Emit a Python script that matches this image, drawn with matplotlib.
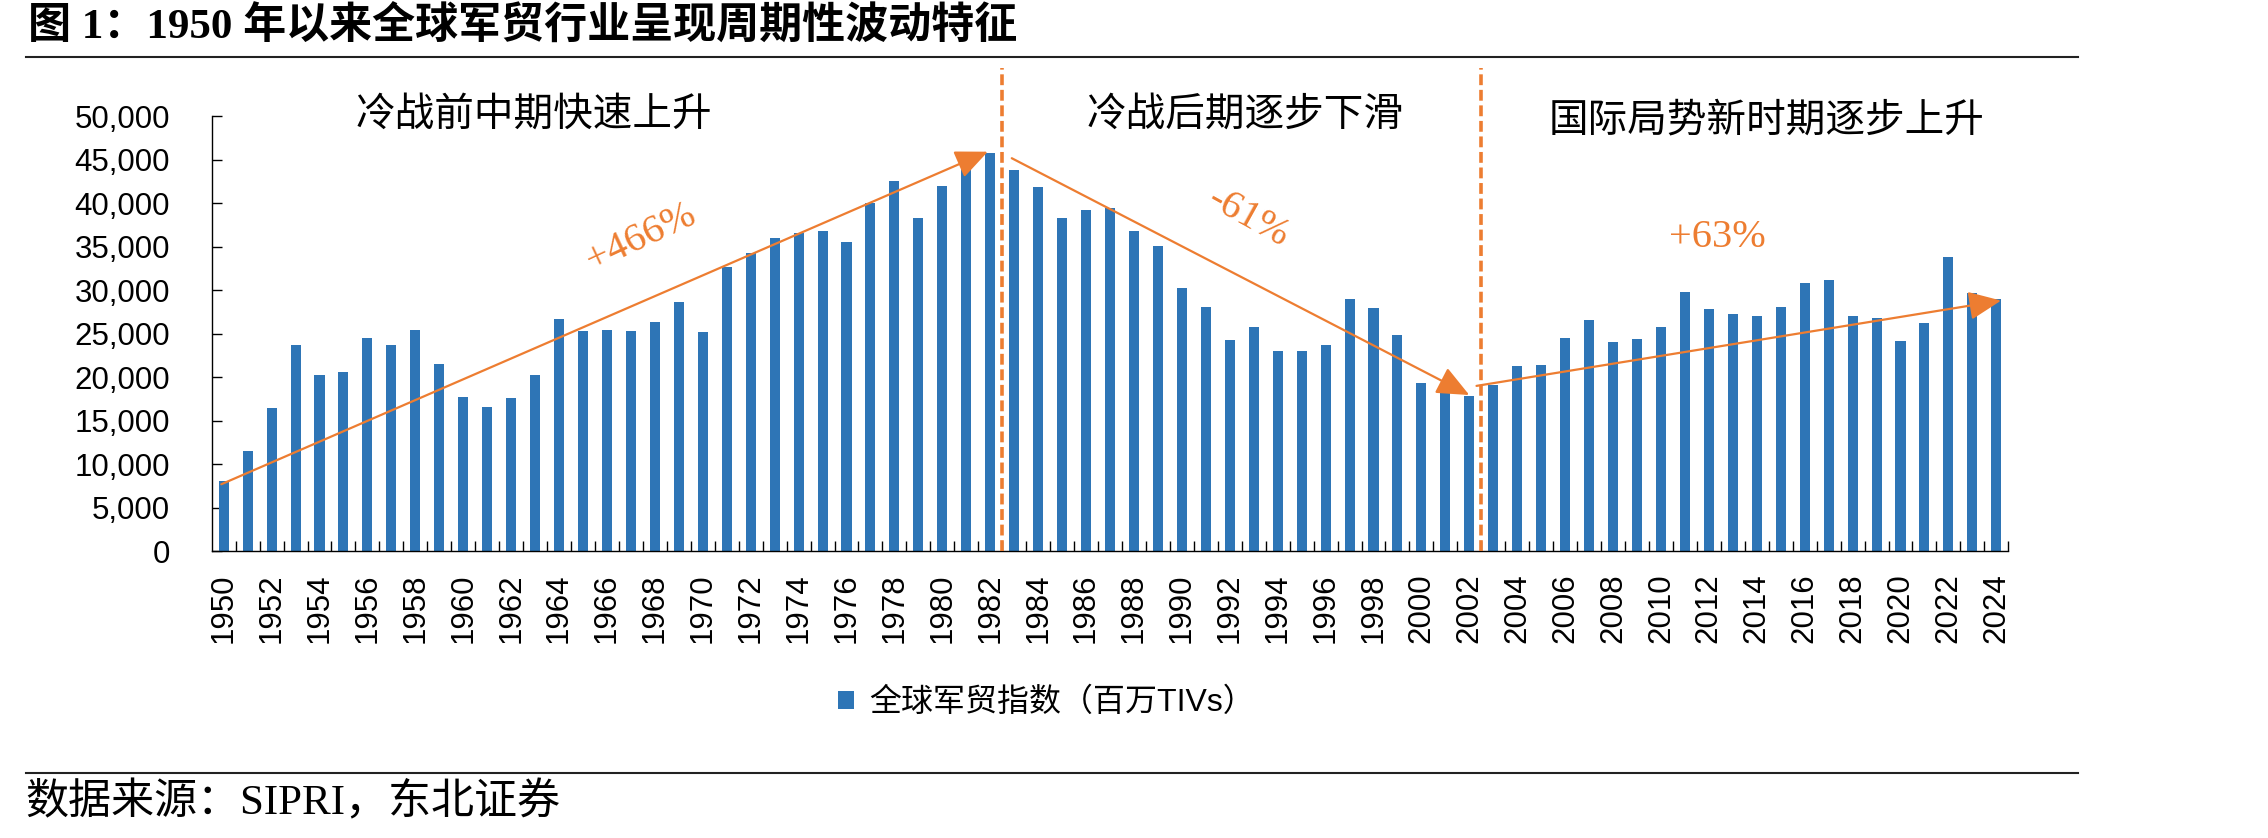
import numpy as np
import matplotlib
matplotlib.use("Agg")
import matplotlib.pyplot as plt
from matplotlib.ticker import FuncFormatter, FixedLocator

# data (SIPRI TIV, millions)
years = list(range(1950, 2025))
tiv = [8100, 11500, 16500, 23650, 20200, 20550, 24500, 23700, 25400, 21500,
       17700, 16550, 17600, 20200, 26650, 25250, 25400, 25300, 26350, 28650,
       25150, 32600, 34250, 36000, 36550, 36750, 35550, 40050, 42500, 38300,
       42000, 45500, 45750, 43850, 41900, 38250, 39150, 39400, 36800, 35050,
       30200, 28050, 24250, 25800, 22950, 22950, 23750, 28950, 27900, 24900,
       19350, 18600, 17800, 19100, 21300, 21350, 24450, 26550, 24000, 24400,
       25750, 29800, 27850, 27200, 27000, 28050, 30800, 31150, 27050, 26750,
       24150, 26250, 33850, 29650, 28950]
series_name = "全球军贸指数（百万TIVs）"
title = "图 1：1950 年以来全球军贸行业呈现周期性波动特征"
source = "数据来源：SIPRI，东北证券"

# phases: divider years (between bars), label text
dividers = [1982.5, 2002.5]
phase_labels = ["冷战前中期快速上升", "冷战后期逐步下滑", "国际局势新时期逐步上升"]
phase_xy = [(1962.96, 50200), (1992.65, 50200), (2014.4, 49500)]

# trend arrows (year, value) -> (year, value) and their labels
trend_arrows = [((1949.9, 7700), (1981.9, 45900)),
                ((1982.9, 45150), (2002.0, 17950)),
                ((2002.3, 19000), (2024.2, 28800))]
trend_labels = ["+466%", "-61%", "+63%"]
trend_label_xy = [(1967.43, 36000), (1992.78, 38300), (2012.36, 36000)]
trend_label_rot = [25, -29, 0]

blue = "#2E75B6"
orange = "#ED7D31"
cjk = "Noto Sans CJK SC"

x = np.arange(len(years))
W, H = 2268, 838

fig = plt.figure(figsize=(W / 100, H / 100), dpi=100)
ax = fig.add_axes([211.7 / W, 1 - 551.3 / H, (2008.3 - 211.7) / W, (551.3 - 116) / H])

bars = ax.bar(x, tiv, width=0.42, color=blue, label=series_name, zorder=2)

ax.set_xlim(-0.5, len(years) - 0.5)
ax.set_ylim(0, 50000)

for s in ["top", "right"]:
    ax.spines[s].set_visible(False)
for s in ["left", "bottom"]:
    ax.spines[s].set_linewidth(1.0)

ax.set_yticks(np.arange(0, 50001, 5000))
ax.yaxis.set_major_formatter(FuncFormatter(lambda v, p: f"{int(v):,}"))
ax.tick_params(axis="y", direction="in", length=7, width=1.0, pad=30,
               labelsize=22.5)
for lab in ax.get_yticklabels():
    lab.set_family("Liberation Sans")

ax.set_xticks(x[::2])
ax.set_xticklabels([str(y) for y in years[::2]], rotation=90,
                   family="Liberation Sans", fontsize=22.5)
ax.tick_params(axis="x", which="major", length=0, pad=16)
ax.xaxis.set_minor_locator(FixedLocator(x + 0.5))
ax.tick_params(axis="x", which="minor", direction="in", length=7, width=1.0)

# period dividers
for d in dividers:
    xd = d - years[0]
    ax.plot([xd, xd], [0, 55500], color=orange, lw=2.6, dashes=(3, 1.3),
            clip_on=False, zorder=3)

for txt, (yr, v) in zip(phase_labels, phase_xy):
    ax.text(yr - years[0], v, txt, ha="center", va="center", fontsize=28.5,
            family=cjk, color="black")

for (s, e) in trend_arrows:
    ax.annotate("", xy=(e[0] - years[0], e[1]), xytext=(s[0] - years[0], s[1]),
                arrowprops=dict(arrowstyle="-|>,head_length=0.5,head_width=0.22",
                                color=orange, lw=1.6, mutation_scale=40,
                                shrinkA=0, shrinkB=0), zorder=4)

for txt, (yr, v), r in zip(trend_labels, trend_label_xy, trend_label_rot):
    ax.text(yr - years[0], v, txt, ha="center", va="center", fontsize=29,
            family="Liberation Serif", color=orange, rotation=r,
            rotation_mode="anchor")

leg = ax.legend(loc="center", bbox_to_anchor=((843 + 1250) / 2 / W, 1 - 703 / H),
                bbox_transform=fig.transFigure, frameon=False,
                prop={"family": ["Liberation Sans", cjk], "size": 23},
                handlelength=0.5, handleheight=0.5, handletextpad=0.45,
                borderpad=0)

# header / footer
fig.text(28 / W, 1 - 27 / H, title, ha="left", va="center", fontsize=31,
         fontweight="bold", family=["Liberation Serif", cjk])
fig.add_artist(plt.Line2D([26 / W, 2078 / W], [1 - 57 / H, 1 - 57 / H],
                          color="#222222", lw=1.5))
fig.add_artist(plt.Line2D([26 / W, 2078 / W], [1 - 773 / H, 1 - 773 / H],
                          color="#222222", lw=1.5))
fig.text(25 / W, 1 - 803 / H, source, ha="left", va="center", fontsize=31,
         family=["Liberation Serif", cjk])

fig.savefig("out.png", dpi=100)
